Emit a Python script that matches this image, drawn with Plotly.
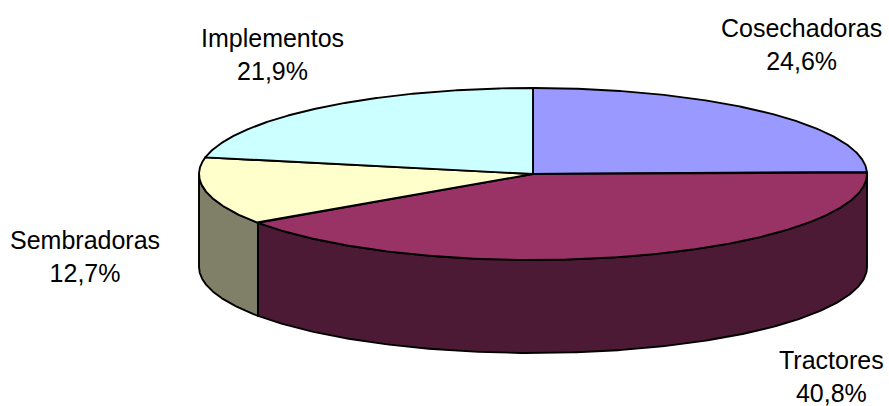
import numpy as np
import plotly.graph_objects as go

# ---- data ----
categories = ["Cosechadoras", "Tractores", "Sembradoras", "Implementos"]
values = [24.6, 40.8, 12.7, 21.9]
top_colors = ["#9999FF", "#993366", "#FFFFCC", "#CCFFFF"]
side_colors = ["#4D4D80", "#4D1A35", "#808068", "#668080"]

# ---- geometry (style) ----
W, H = 889, 406
cx, cy = 533, 174
rx, ry = 334, 86
depth = 93
label_pos = {  # annotation anchor points (layout)
    "Cosechadoras": (801, 44),
    "Tractores": (831, 376),
    "Sembradoras": (85, 256),
    "Implementos": (272, 54),
}


def pt(t_deg, dy=0.0):
    t = np.radians(t_deg)
    return cx + rx * np.sin(t), cy - ry * np.cos(t) + dy


total = float(sum(values))
bounds = np.concatenate([[0.0], np.cumsum(values) / total * 360.0])

fig = go.Figure()
line = dict(color="black", width=1.9)

# side walls (front half only: 90..270 deg clockwise from top)
for i, name in enumerate(categories):
    a, b = bounds[i], bounds[i + 1]
    lo, hi = max(a, 90.0), min(b, 270.0)
    if hi <= lo:
        continue
    ts = np.linspace(lo, hi, 200)
    xs_top, ys_top = pt(ts)
    xs_bot, ys_bot = pt(ts[::-1], depth)
    xs = np.concatenate([xs_top, xs_bot, xs_top[:1]])
    ys = np.concatenate([ys_top, ys_bot, ys_top[:1]])
    fig.add_trace(go.Scatter(x=xs, y=ys, mode="lines", fill="toself",
                             fillcolor=side_colors[i], line=line,
                             hoverinfo="skip", showlegend=False))

# top faces
for i, name in enumerate(categories):
    a, b = bounds[i], bounds[i + 1]
    ts = np.linspace(a, b, 300)
    xa, ya = pt(ts)
    xs = np.concatenate([[cx], xa, [cx]])
    ys = np.concatenate([[cy], ya, [cy]])
    fig.add_trace(go.Scatter(x=xs, y=ys, mode="lines", fill="toself",
                             fillcolor=top_colors[i], line=line,
                             hoverinfo="skip", showlegend=False))

for name, v in zip(categories, values):
    lx, ly = label_pos[name]
    txt = f"{name}<br>{v:.1f}".replace(".", ",") + "%"
    fig.add_annotation(x=lx, y=ly, xref="x", yref="y", text=txt,
                       showarrow=False, xanchor="center", yanchor="middle",
                       align="center",
                       font=dict(family="Liberation Sans, Arial, sans-serif",
                                 size=25, color="black"))

fig.update_layout(
    width=W, height=H,
    margin=dict(l=0, r=0, t=0, b=0),
    paper_bgcolor="white", plot_bgcolor="white",
    showlegend=False,
    xaxis=dict(range=[0, W], visible=False, fixedrange=True),
    yaxis=dict(range=[H, 0], visible=False, fixedrange=True),
)

fig.write_html(
    "out.html",
    config={"displayModeBar": False},
    post_script="document.body.style.margin='0';document.body.style.overflow='hidden';",
)
